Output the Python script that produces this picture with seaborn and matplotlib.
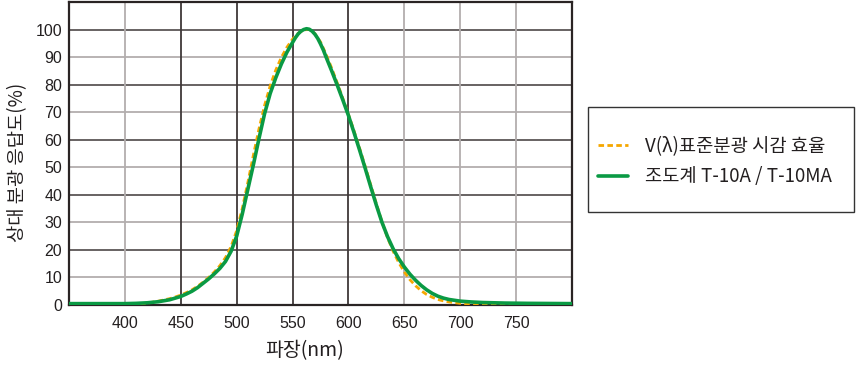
import matplotlib
matplotlib.use("Agg")
import matplotlib.pyplot as plt
from matplotlib.patches import Rectangle
import seaborn as sns
import pandas as pd

# ---- data ----
v_wl = [350, 380, 400, 410, 420, 430, 440, 445, 450, 455, 460, 465, 470, 475, 480, 485, 490, 495,
        500, 505, 510, 515, 520, 525, 530, 535, 540, 545, 550, 555, 560, 565, 570, 575, 580, 585,
        590, 595, 600, 605, 610, 615, 620, 625, 630, 635, 640, 645, 650, 655, 660, 665, 670, 675,
        680, 685, 690, 700, 710, 720, 740, 760, 800]
v_val = [0.0, 0.0, 0.1, 0.3, 0.7, 1.4, 2.3, 2.9, 3.6, 4.5, 5.5, 6.8, 8.3, 10.0, 12.0, 14.3, 17.2, 21.2,
         27.0, 35.0, 44.5, 54.5, 64.0, 72.5, 79.6, 85.3, 89.9, 93.6, 96.5, 98.6, 99.9, 100.0, 98.5, 95.5, 91.0, 86.0,
         80.6, 75.0, 69.2, 63.2, 56.9, 50.3, 43.5, 36.7, 30.2, 24.4, 19.5, 15.4, 12.0, 9.2, 7.0, 5.2, 3.8, 2.8,
         2.0, 1.5, 1.1, 0.6, 0.35, 0.2, 0.1, 0.05, 0.0]

t_wl = [350, 360, 370, 380, 390, 400, 410, 420, 430, 440, 445, 450, 455, 460, 465, 470, 475, 480,
        485, 490, 495, 500, 505, 510, 515, 520, 525, 530, 535, 540, 545, 550, 552.5, 555, 557.5, 560,
        562.5, 565, 567.5, 570, 572.5, 575, 577.5, 580, 585, 590, 595, 600, 605, 610, 615, 620, 625,
        630, 635, 640, 645, 650, 655, 660, 665, 670, 675, 680, 685, 690, 700, 710, 720, 740, 760, 800]
t_val = [0.5, 0.5, 0.5, 0.5, 0.5, 0.5, 0.6, 0.8, 1.2, 1.9, 2.5, 3.1, 4.0, 5.0, 6.3, 7.9, 9.5, 11.3,
         13.3, 15.8, 19.5, 25.0, 33.0, 42.0, 51.0, 60.5, 69.5, 76.8, 82.5, 87.5, 91.8, 95.3, 97.0, 98.4, 99.4, 100.0,
         100.3, 100.1, 99.4, 98.3, 96.8, 94.8, 92.6, 90.0, 85.0, 79.8, 74.4, 68.8, 62.6, 56.2, 49.6, 42.8, 36.2,
         30.0, 24.8, 20.4, 16.8, 13.8, 11.2, 9.0, 7.1, 5.5, 4.2, 3.2, 2.5, 2.0, 1.4, 1.1, 0.9, 0.7, 0.6, 0.5]

x_ticks = [400, 450, 500, 550, 600, 650, 700, 750]
y_ticks = [0, 10, 20, 30, 40, 50, 60, 70, 80, 90, 100]
label_v = "V(λ)표준분광 시감 효율"
label_t = "조도계 T-10A / T-10MA"
x_label = "파장(nm)"
y_label = "상대 분광 응답도(%)"

# ---- style ----
sns.set_theme(style="white")
plt.rcParams['font.family'] = ['Noto Sans CJK KR', 'DejaVu Sans']

fig = plt.figure(figsize=(8.56, 3.74), dpi=100)
ax = fig.add_axes([69/856, 1-305/374, (572-69)/856, (305-2)/374])

dark = "#3f3838"
light = "#b3aeae"
for y in y_ticks[1:]:
    ax.axhline(y, color=dark if y % 20 == 0 else light, lw=1.3 if y % 20 else 1.1, zorder=0)
for x in x_ticks:
    ax.axvline(x, color=dark if x in (450, 500, 550, 600) else light, lw=1.3, zorder=0)

df_v = pd.DataFrame({"wl": v_wl, "val": v_val})
df_t = pd.DataFrame({"wl": t_wl, "val": t_val})
sns.lineplot(data=df_v, x="wl", y="val", ax=ax, color="#f5a700", lw=2.0,
             linestyle=(0, (2.0, 1.2)), label=label_v, zorder=3)
sns.lineplot(data=df_t, x="wl", y="val", ax=ax, color="#0a9a44", lw=2.6,
             label=label_t, zorder=4)
for ln in ax.get_lines():
    ln.set_solid_joinstyle("round")
    ln.set_dash_joinstyle("round")

ax.set_xlim(350, 800)
ax.set_ylim(0, 110)
ax.set_xticks(x_ticks)
ax.set_yticks(y_ticks)
ax.tick_params(axis='both', length=0, labelsize=11.5, labelcolor="#231f20")
for lab in ax.get_xticklabels() + ax.get_yticklabels():
    lab.set_fontfamily(['Liberation Sans', 'DejaVu Sans'])
ax.tick_params(axis='y', pad=5)
ax.tick_params(axis='x', pad=8)

for s in ax.spines.values():
    s.set_color("#2a2424")
    s.set_linewidth(1.6)

ax.set_xlabel(x_label, fontsize=14, color="#231f20")
ax.xaxis.set_label_coords((305-69)/503, -0.115)
ax.set_ylabel("")
fig.text(18/856, 1-162/374, y_label, rotation=90, ha="center", va="center",
         fontsize=13.5, color="#231f20")

ax.get_legend().remove()
h, l = ax.get_legend_handles_labels()
leg = fig.legend(h, l, loc="center left", bbox_to_anchor=(598/856, 1-161.5/374),
                 frameon=False, fontsize=13.5,
                 handlelength=1.6, handletextpad=0.9, borderpad=0, labelspacing=0.5,
                 borderaxespad=0)
for t in leg.get_texts():
    t.set_color("#231f20")
fig.add_artist(Rectangle((588/856, 1-212/374), 266/856, 105/374, transform=fig.transFigure,
                         fill=False, edgecolor="#333333", lw=1.0))

fig.savefig("out.png", dpi=100)
